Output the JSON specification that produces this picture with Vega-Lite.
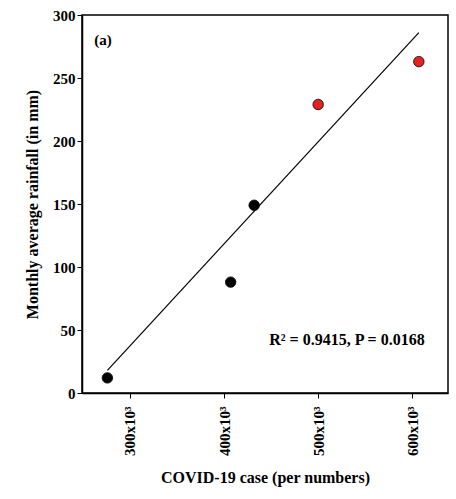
{
  "$schema": "https://vega.github.io/schema/vega-lite/v6.json",
  "width": 366,
  "height": 378,
  "autosize": "none",
  "padding": {"left": 82, "top": 15, "right": 8, "bottom": 106},
  "config": {
    "font": "Liberation Serif",
    "view": {"stroke": "black", "strokeWidth": 1.5},
    "axis": {"labelFont": "Liberation Serif", "titleFont": "Liberation Serif", "labelFontWeight": "bold", "titleFontWeight": "bold", "labelColor": "black", "titleColor": "black", "domainColor": "black", "domainWidth": 1.5, "tickColor": "black", "grid": false, "labelFontSize": 15, "titleFontSize": 16}
  },
  "datasets": {
    "pts": [
      {"cases": 276000, "rain": 12, "group": "black"},
      {"cases": 407000, "rain": 88, "group": "black"},
      {"cases": 432000, "rain": 149, "group": "black"},
      {"cases": 500000, "rain": 229, "group": "red"},
      {"cases": 607000, "rain": 263, "group": "red"}
    ],
    "fit": [
      {"cases": 276000, "rain": 18},
      {"cases": 607000, "rain": 286}
    ]
  },
  "layer": [
    {
      "data": {"name": "fit"},
      "mark": {"type": "line", "color": "black", "strokeWidth": 1.2},
      "encoding": {
        "x": {"field": "cases", "type": "quantitative", "scale": {"domain": [249000, 638000], "nice": false, "zero": false},
          "axis": {"values": [300000, 400000, 500000, 600000], "labelExpr": "(datum.value/1000) + 'x10³'", "labelAngle": -90, "labelPadding": 8, "title": "COVID-19 case (per numbers)", "titlePadding": 14}},
        "y": {"field": "rain", "type": "quantitative", "scale": {"domain": [0, 300], "nice": false},
          "axis": {"values": [0, 50, 100, 150, 200, 250, 300], "title": "Monthly average rainfall (in mm)", "titlePadding": 12}}
      }
    },
    {
      "data": {"name": "pts"},
      "mark": {"type": "circle", "size": 110, "stroke": "black", "strokeWidth": 0.8, "opacity": 1},
      "encoding": {
        "x": {"field": "cases", "type": "quantitative"},
        "y": {"field": "rain", "type": "quantitative"},
        "color": {"field": "group", "type": "nominal", "scale": {"domain": ["black", "red"], "range": ["black", "#e32222"]}, "legend": null}
      }
    },
    {
      "data": {"values": [{"t": "(a)", "cases": 262000, "rain": 280}]},
      "mark": {"type": "text", "align": "left", "fontWeight": "bold", "fontSize": 15},
      "encoding": {"x": {"field": "cases", "type": "quantitative"}, "y": {"field": "rain", "type": "quantitative"}, "text": {"field": "t"}}
    },
    {
      "data": {"values": [{"t": "R² = 0.9415, P = 0.0168", "cases": 448000, "rain": 42}]},
      "mark": {"type": "text", "align": "left", "fontWeight": "bold", "fontSize": 16},
      "encoding": {"x": {"field": "cases", "type": "quantitative"}, "y": {"field": "rain", "type": "quantitative"}, "text": {"field": "t"}}
    }
  ]
}
